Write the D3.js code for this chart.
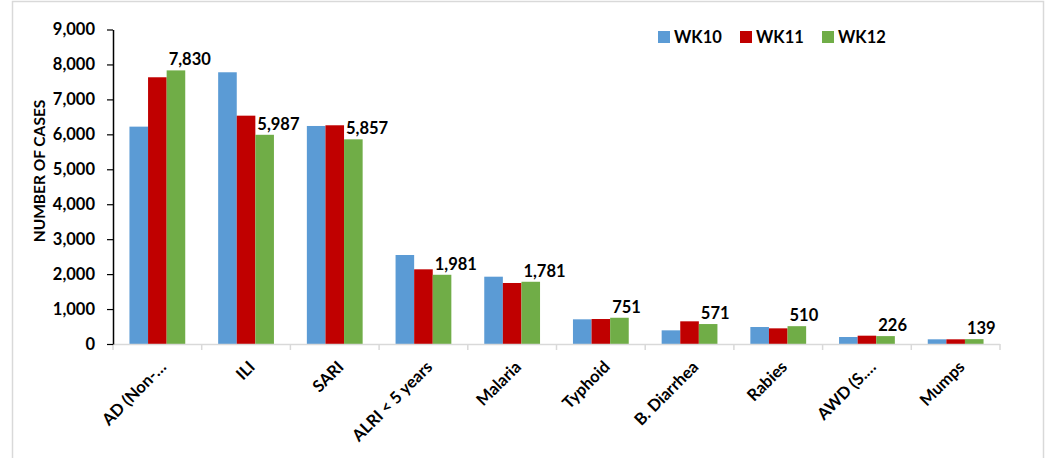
<!DOCTYPE html>
<html>
<head>
<meta charset="utf-8">
<script src="https://cdn.jsdelivr.net/npm/d3@7"></script>
<style>
  html, body { margin: 0; padding: 0; background: #fff; }
  svg { display: block; font-family: Lato, "Open Sans", sans-serif; font-weight: bold; }
</style>
</head>
<body>
<svg id="chart" width="1049" height="458"></svg>
<script>
const categories = ["AD (Non-\u2026", "ILI", "SARI", "ALRI < 5 years", "Malaria", "Typhoid", "B. Diarrhea", "Rabies", "AWD (S.\u2026", "Mumps"];
const seriesNames = ["WK10", "WK11", "WK12"];
const wk10 = [6220, 7776, 6239, 2547, 1926, 706, 391, 486, 200, 134];
const wk11 = [7633, 6534, 6259, 2137, 1746, 715, 649, 448, 238, 134];
const wk12 = [7830, 5987, 5857, 1981, 1781, 751, 571, 510, 226, 139];
const yTicks = [0, 1000, 2000, 3000, 4000, 5000, 6000, 7000, 8000, 9000];
const colors = ["#5B9BD5", "#C00000", "#70AD47"];

const series = [wk10, wk11, wk12];
const svg = d3.select("#chart");

// outer border
svg.append("rect").attr("x", 12.5).attr("y", 1.5).attr("width", 1031).attr("height", 480)
  .attr("fill", "none").attr("stroke", "#d9d9d9").attr("stroke-width", 1.5);

const pLeft = 113, pRight = 1000, pTop = 29.5, pBottom = 344;
const x = d3.scaleBand().domain(categories).range([pLeft, pRight]).paddingInner(0).paddingOuter(0);
const x1 = d3.scaleBand().domain(seriesNames).range([0, x.bandwidth()]).paddingOuter(0.885).paddingInner(0);
const y = d3.scaleLinear().domain([0, 9000]).range([pBottom, pTop]);

// bars
categories.forEach((c, i) => {
  const g = svg.append("g").attr("transform", `translate(${x(c)},0)`);
  series.forEach((s, j) => {
    g.append("rect")
      .attr("x", x1(seriesNames[j]))
      .attr("y", y(s[i]))
      .attr("width", x1.bandwidth())
      .attr("height", y(0) - y(s[i]))
      .attr("fill", colors[j]);
  });
  // label for WK12
  g.append("text")
    .attr("x", x1("WK12") + 2)
    .attr("y", y(wk12[i]) - 5)
    .attr("font-size", 16.5)
    .attr("fill", "#000")
    .text(d3.format(",")(wk12[i]));
});

// x axis
const xAxisG = svg.append("g").attr("transform", `translate(0,${pBottom})`);
xAxisG.append("line").attr("x1", pLeft).attr("x2", pRight).attr("y1", 0.5).attr("y2", 0.5)
  .attr("stroke", "#d9d9d9").attr("stroke-width", 1.5);
const edges = categories.map(c => x(c)).concat([pRight]);
xAxisG.selectAll("line.tick").data(edges).enter().append("line")
  .attr("x1", d => d).attr("x2", d => d).attr("y1", 0).attr("y2", 6)
  .attr("stroke", "#d9d9d9").attr("stroke-width", 1.5);
xAxisG.selectAll("text.cat").data(categories).enter().append("text")
  .attr("transform", d => `translate(${x(d) + x.bandwidth() / 2 + 10},${24}) rotate(-45)`)
  .attr("text-anchor", "end")
  .attr("font-size", 16.5)
  .attr("fill", "#000")
  .text(d => d);

// y axis
const yAxis = d3.axisLeft(y).tickValues(yTicks).tickSize(6).tickSizeOuter(0).tickPadding(12)
  .tickFormat(d3.format(","));
const yG = svg.append("g").attr("transform", `translate(${pLeft},0)`).call(yAxis);
yG.select(".domain").attr("stroke", "#000").attr("stroke-width", 1.5);
yG.selectAll(".tick line").attr("stroke", "#000").attr("stroke-width", 1.2);
yG.selectAll(".tick text").attr("font-size", 16.5).attr("font-family", "Lato").attr("font-weight", "bold").attr("fill", "#000");

// y title
svg.append("text")
  .attr("transform", `translate(45,171) rotate(-90)`)
  .attr("text-anchor", "middle")
  .attr("font-size", 15.5)
  .attr("fill", "#000")
  .text("NUMBER OF CASES");

// legend
const legendX = [658, 740, 822];
seriesNames.forEach((n, j) => {
  svg.append("rect").attr("x", legendX[j]).attr("y", 31).attr("width", 12).attr("height", 12).attr("fill", colors[j]);
  svg.append("text").attr("x", legendX[j] + 16).attr("y", 42.5).attr("font-size", 16.5).attr("fill", "#000").text(n);
});
</script>
</body>
</html>
